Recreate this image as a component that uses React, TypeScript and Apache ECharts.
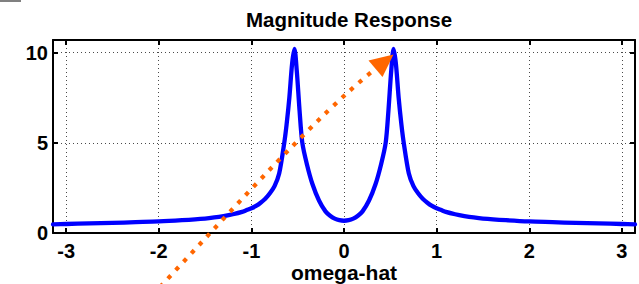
import React, { useEffect, useRef } from "react";
import * as echarts from "echarts";

const omega = [
  -3.1416, -3.0, -2.75, -2.5, -2.25, -2.0, -1.75, -1.5, -1.4, -1.3, -1.2, -1.1, -1.05, -1.0, -0.95,
  -0.9, -0.85, -0.8, -0.75, -0.7, -0.645, -0.62, -0.59, -0.56, -0.535, -0.51, -0.48, -0.45, -0.4,
  -0.34, -0.27, -0.2, -0.15, -0.1, -0.05, 0,
  0.05, 0.1, 0.15, 0.2, 0.27, 0.34, 0.4, 0.45, 0.48, 0.51, 0.535, 0.56, 0.59, 0.62, 0.645, 0.7,
  0.75, 0.8, 0.85, 0.9, 0.95, 1.0, 1.05, 1.1, 1.2, 1.3, 1.4, 1.5, 1.75, 2.0, 2.25, 2.5, 2.75, 3.0,
  3.1416,
];
const magnitude = [
  0.48, 0.5, 0.53, 0.56, 0.6, 0.64, 0.71, 0.8, 0.86, 0.94, 1.04, 1.17, 1.27, 1.37, 1.5,
  1.68, 1.9, 2.2, 2.6, 3.3, 5.0, 6.0, 7.5, 9.4, 10.2, 9.0, 6.8, 5.0, 3.8,
  2.7, 1.8, 1.2, 0.96, 0.8, 0.71, 0.68,
  0.71, 0.8, 0.96, 1.2, 1.8, 2.7, 3.8, 5.0, 6.8, 9.0, 10.2, 9.4, 7.5, 6.0, 5.0, 3.3,
  2.6, 2.2, 1.9, 1.68, 1.5, 1.37, 1.27, 1.17, 1.04, 0.94, 0.86, 0.8, 0.71, 0.64, 0.6, 0.56, 0.53, 0.5,
  0.48,
];
const xTicks = [-3, -2, -1, 0, 1, 2, 3];
const yTicks = [0, 5, 10];

const FONT = "'Liberation Sans', Arial, Helvetica, sans-serif";

export default function App() {
  const ref = useRef<HTMLDivElement>(null);
  useEffect(() => {
    document.body.style.margin = "0";
    const chart = echarts.init(ref.current!, null, { renderer: "svg" });
    const gridLine = { show: true, lineStyle: { color: "#4a4a4a", width: 1, type: [1, 3] as any } };
    const axisLine = { show: true, onZero: false, lineStyle: { color: "#000", width: 2 } };
    const tick = (vals: number[]) => ({
      show: true,
      inside: true,
      length: 5,
      customValues: vals,
      lineStyle: { color: "#000", width: 2 },
    });
    chart.setOption({
      animation: false,
      title: {
        text: "Magnitude Response",
        left: 344,
        top: 4,
        textAlign: "center",
        textStyle: { fontFamily: FONT, fontWeight: "bold", fontSize: 20.5, color: "#000" },
      },
      grid: { left: 53, right: 4, top: 40, bottom: 51, outerBoundsMode: "none", containLabel: false },
      xAxis: [
        {
          type: "value",
          min: -Math.PI,
          max: Math.PI,
          position: "bottom",
          axisLine,
          axisTick: tick(xTicks),
          axisLabel: {
            customValues: xTicks,
            margin: 8,
            fontFamily: FONT,
            fontWeight: "bold",
            fontSize: 20,
            color: "#000",
          },
          splitLine: gridLine,
          name: "omega-hat",
          nameLocation: "middle",
          nameGap: 28,
          nameMoveOverlap: false,
          nameTextStyle: {
            fontFamily: FONT,
            fontWeight: "bold",
            fontSize: 21,
            color: "#000",
            verticalAlign: "top",
            lineHeight: 22,
          },
        },
        {
          type: "value",
          min: -Math.PI,
          max: Math.PI,
          position: "top",
          axisLine,
          axisTick: tick(xTicks),
          axisLabel: { show: false },
          splitLine: { show: false },
        },
      ],
      yAxis: [
        {
          type: "value",
          min: 0,
          max: 10.7,
          position: "left",
          axisLine,
          axisTick: tick(yTicks),
          axisLabel: {
            customValues: yTicks,
            margin: 5,
            fontFamily: FONT,
            fontWeight: "bold",
            fontSize: 20,
            color: "#000",
          },
          splitLine: gridLine,
        },
        {
          type: "value",
          min: 0,
          max: 10.7,
          position: "right",
          axisLine,
          axisTick: tick(yTicks),
          axisLabel: { show: false },
          splitLine: { show: false },
        },
      ],
      series: [
        {
          type: "line",
          xAxisIndex: 0,
          yAxisIndex: 0,
          data: omega.map((w, i) => [w, magnitude[i]]),
          showSymbol: false,
          smooth: 0.3,
          lineStyle: { color: "#0000FF", width: 4.3, join: "round", cap: "round" },
          z: 3,
        },
      ],
      graphic: [
        { type: "rect", shape: { x: 0, y: 0, width: 21, height: 2 }, style: { fill: "#808080" } },
        {
          type: "bezierCurve",
          z: 100,
          shape: { x1: 160, y1: 287, cpx1: 240, cpy1: 201.4, cpx2: 316, cpy2: 116.7, x2: 374, y2: 70 },
          style: { stroke: "#FF6600", lineWidth: 4.2, lineDash: [4.2, 7.2], lineCap: "butt", fill: null },
        },
        {
          type: "polygon",
          z: 100,
          shape: { points: [[393.5, 54.5], [368.5, 60.5], [382.5, 77]] },
          style: { fill: "#FF6600" },
        },
      ],
    });
    return () => chart.dispose();
  }, []);
  return <div ref={ref} style={{ width: 639, height: 284 }} />;
}
